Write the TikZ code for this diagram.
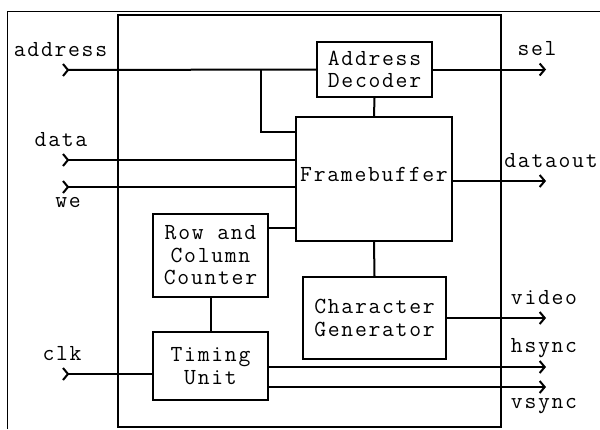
\documentclass[tikz,border=0pt]{standalone}
\usepackage{fontspec}
\newfontfamily\diafont{Latin Modern Mono}[LetterSpace=7.5]
\usetikzlibrary{arrows.meta}
\begin{document}
\begin{tikzpicture}[x=1pt,y=-1pt,
  dfont/.style={font=\diafont\fontsize{23}{22.5}\selectfont},
  wire/.style={line width=2pt},
  box/.style={draw,line width=2pt,rectangle,inner sep=0pt,align=center,dfont},
  lbl/.style={dfont,inner sep=0pt,anchor=base},
  outarr/.style={wire,-{Straight Barb[length=5pt,width=12pt]}},
  inarr/.style={wire,{Straight Barb[reversed,length=5pt,width=12pt]}-},
]
\useasboundingbox (0,0) rectangle (600,429);
\draw[line width=1pt] (7,429) -- (7,11) -- (600,11);

\node[box,minimum width=383pt,minimum height=412pt] (chip) at (309.5,221) {};
\node[box,minimum width=115pt,minimum height=55pt] (addr) at (374.5,69.5) {Address\\Decoder};
\node[box,minimum width=156pt,minimum height=124pt] (fb) at (374,179) {\raisebox{9pt}{Framebuffer}};
\node[box,minimum width=115pt,minimum height=83pt] (rc) at (210.5,255.5) {Row and\\Column\\Counter};
\node[box,minimum width=115pt,minimum height=68pt] (tu) at (210.5,366) {Timing\\Unit};
\node[box,minimum width=143pt,minimum height=82pt] (cg) at (374.5,318) {Character\\Generator};

\coordinate (ain) at (62,70);
\coordinate (din) at (62,160);
\coordinate (win) at (62,187);
\coordinate (cin) at (62,374);
\coordinate (abr) at (261,70);
\coordinate (fbA) at (296,132);
\coordinate (fbD) at (296,160);
\coordinate (fbW) at (296,187);
\coordinate (fbR) at (296,228);
\coordinate (tuC) at (153,374);
\coordinate (selo) at (546,70);
\coordinate (douto) at (546,181);
\coordinate (vido) at (546,318);
\coordinate (hso) at (546,367);
\coordinate (vso) at (546,387);

\draw[inarr] (ain) -- (addr.west);
\draw[wire] (abr) |- (fbA);
\draw[inarr] (din) -- (fbD);
\draw[inarr] (win) -- (fbW);
\draw[wire] (rc.east |- fbR) -- (fbR);
\draw[wire] (addr.south) -- (fb.north);
\draw[wire] (fb.south) -- (cg.north);
\draw[wire] (rc.south) -- (tu.north);
\draw[inarr] (cin) -- (tuC);
\draw[outarr] (addr.east) -- (addr.east -| selo);
\draw[outarr] (fb.east |- douto) -- (douto);
\draw[outarr] (cg.east) -- (cg.east -| vido);
\draw[outarr] (tu.east |- hso) -- (hso);
\draw[outarr] (tu.east |- vso) -- (vso);

\node[lbl] (laddr) at (60.5,56) {address};
\node[lbl] (ldata) at (61,146) {data};
\node[lbl] (lwe) at (68,207) {we};
\node[lbl] (lclk) at (62,360) {clk};
\node[lbl] (lsel) at (537,55) {sel};
\node[lbl] (ldout) at (551,167) {dataout};
\node[lbl] (lvid) at (544,304) {video};
\node[lbl] (lhs) at (544,352) {hsync};
\node[lbl] (lvs) at (544,408) {vsync};
\end{tikzpicture}
\end{document}
